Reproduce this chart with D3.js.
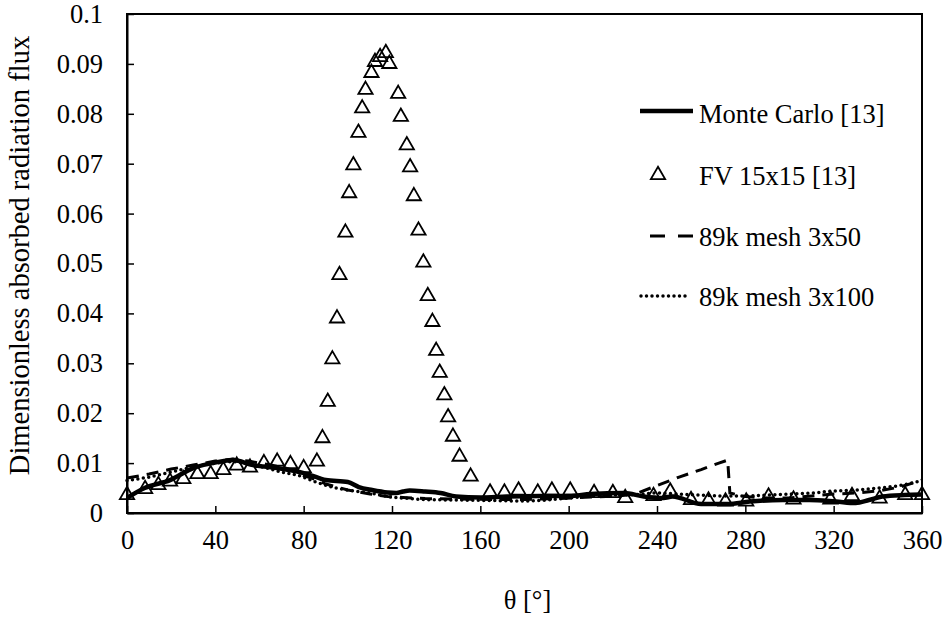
<!DOCTYPE html>
<html>
<head>
<meta charset="utf-8">
<script src="https://cdn.jsdelivr.net/npm/d3@7"></script>
<style>
  html, body { margin: 0; padding: 0; background: #fff; }
  svg { display: block; }
  text { font-family: "Liberation Serif", "Times New Roman", serif; fill: #000; }
</style>
</head>
<body>
<svg id="chart" width="947" height="619"></svg>
<script>
// Angular position along the receiver wall [deg] and dimensionless absorbed flux
const xTicks = [0, 40, 80, 120, 160, 200, 240, 280, 320, 360];
const yTicks = [0, 0.01, 0.02, 0.03, 0.04, 0.05, 0.06, 0.07, 0.08, 0.09, 0.1];
const yTickLabels = ["0", "0.01", "0.02", "0.03", "0.04", "0.05", "0.06", "0.07", "0.08", "0.09", "0.1"];

const seriesNames = ["Monte Carlo [13]", "FV 15x15 [13]", "89k mesh 3x50", "89k mesh 3x100"];

// Monte Carlo [13]
const monteCarlo = [
  [0, 0.0030], [8, 0.0050], [19.5, 0.0066], [30, 0.0090], [41, 0.0102], [48, 0.0106],
  [57, 0.0096], [68, 0.0090], [80, 0.0080], [87, 0.0070], [90, 0.0066], [100, 0.0062],
  [105, 0.0052], [111, 0.0046], [118, 0.0041], [122, 0.0040], [125, 0.0043], [128, 0.0045],
  [135, 0.0043], [142, 0.0040], [149, 0.0033], [160, 0.0031], [172, 0.0033], [187, 0.0034],
  [200, 0.0034], [210, 0.0038], [225, 0.0040], [234, 0.0033], [243, 0.0030], [247, 0.0033],
  [260, 0.0018], [272, 0.0018], [282, 0.0023], [297, 0.0026], [309, 0.0026], [321, 0.0023],
  [330, 0.0020], [336, 0.0026], [342, 0.0033], [352, 0.0036], [360, 0.0037]
];

// FV 15x15 [13]
const fv15 = [
  [0, 0.0036], [8.2, 0.0048], [14.2, 0.0056], [19.5, 0.0063], [25.5, 0.0068], [31.9, 0.0078],
  [37.9, 0.0078], [43.6, 0.0086], [49.7, 0.0095], [55.7, 0.0091], [62, 0.0100], [68, 0.0103],
  [74, 0.0098], [80, 0.0090], [86, 0.0103],
  [88.5, 0.0150], [90.9, 0.0223], [93, 0.0308], [95.1, 0.0390], [96.2, 0.0477], [98.9, 0.0562],
  [100.6, 0.0641], [102.5, 0.0697], [104.8, 0.0762], [106.5, 0.0811], [108, 0.0848],
  [110.7, 0.0882], [112.3, 0.0904], [114.6, 0.0914], [117.2, 0.0922], [118.8, 0.0900],
  [122.8, 0.0840], [124, 0.0794], [126.7, 0.0737], [128.2, 0.0693], [129.9, 0.0635],
  [132, 0.0566], [134.2, 0.0502], [136.2, 0.0435], [138.3, 0.0383], [140, 0.0325],
  [141.6, 0.0281], [143.7, 0.0236], [145.4, 0.0192], [147.6, 0.0153], [150.6, 0.0113],
  [155.6, 0.0073],
  [164.4, 0.0041], [170.9, 0.0041], [177.3, 0.0045], [186, 0.0041], [192.4, 0.0045],
  [200.7, 0.0045], [211.5, 0.0040], [220, 0.0040], [225.6, 0.0030], [238.4, 0.0034],
  [246, 0.0043], [255.4, 0.0026], [263.3, 0.0025], [271, 0.0023], [280.4, 0.0023],
  [290.5, 0.0033], [301.8, 0.0027], [318.5, 0.0027], [328.3, 0.0034], [340.8, 0.0029],
  [352.4, 0.0036], [360, 0.0036]
];

// 89k mesh, 3x50 angular discretisation
const mesh3x50 = [
  [0, 0.0070], [10, 0.0078], [20, 0.0088], [30, 0.0096], [40, 0.0104], [48, 0.0108],
  [55, 0.0104], [65, 0.0096], [72, 0.0090], [80, 0.0075], [86, 0.0066], [90, 0.0058],
  [100, 0.0046], [110, 0.0038], [118, 0.0033], [125, 0.0031], [135, 0.0029], [150, 0.0028],
  [165, 0.0027], [180, 0.0027], [195, 0.0029], [210, 0.0032], [222, 0.0034], [230, 0.0038],
  [240, 0.0055], [250, 0.0072], [260, 0.0087], [268, 0.0100], [272, 0.0106], [273, 0.0040],
  [280, 0.0033], [290, 0.0030], [300, 0.0030], [310, 0.0034], [320, 0.0038], [330, 0.0040],
  [340, 0.0044], [350, 0.0052], [360, 0.0066]
];

// 89k mesh, 3x100 angular discretisation
const mesh3x100 = [
  [0, 0.0065], [10, 0.0072], [20, 0.0082], [30, 0.0092], [40, 0.0100], [48, 0.0103],
  [55, 0.0098], [65, 0.0088], [70, 0.0082], [77, 0.0076], [85, 0.0063], [93, 0.0052],
  [100, 0.0046], [110, 0.0040], [118, 0.0033], [125, 0.0030], [135, 0.0027], [150, 0.0026],
  [165, 0.0025], [180, 0.0024], [190, 0.0026], [200, 0.0030], [210, 0.0034], [220, 0.0036],
  [230, 0.0037], [240, 0.0040], [250, 0.0038], [260, 0.0036], [270, 0.0034], [280, 0.0034],
  [290, 0.0036], [300, 0.0038], [310, 0.0040], [320, 0.0044], [330, 0.0046], [340, 0.0050],
  [350, 0.0055], [360, 0.0065]
];

const svg = d3.select("#chart");
const margin = { left: 127, right: 25, top: 14, bottom: 106 };
const W = 947, H = 619;
const x = d3.scaleLinear().domain([0, 360]).range([margin.left, W - margin.right]);
const y = d3.scaleLinear().domain([0, 0.1]).range([H - margin.bottom, margin.top]);

const FONT = 26.5;

// Frame
svg.append("rect")
  .attr("x", x(0)).attr("y", y(0.1))
  .attr("width", x(360) - x(0)).attr("height", y(0) - y(0.1))
  .attr("fill", "none").attr("stroke", "#000").attr("stroke-width", 2);

// Axes with inward ticks
const xAxis = d3.axisBottom(x).tickValues(xTicks).tickSizeInner(-7).tickSizeOuter(0).tickPadding(17);
const gx = svg.append("g").attr("transform", `translate(0,${y(0)})`).call(xAxis);
gx.attr("font-family", null).attr("font-size", null);
gx.select(".domain").attr("stroke-width", 2);
gx.selectAll(".tick line").attr("stroke-width", 1.5);
gx.selectAll(".tick text").attr("font-size", FONT);

const yAxis = d3.axisLeft(y).tickValues(yTicks).tickFormat((d, i) => yTickLabels[i])
  .tickSizeInner(-7).tickSizeOuter(0).tickPadding(24);
const gy = svg.append("g").attr("transform", `translate(${x(0)},0)`).call(yAxis);
gy.attr("font-family", null).attr("font-size", null);
gy.select(".domain").attr("stroke-width", 2);
gy.selectAll(".tick line").attr("stroke-width", 1.5);
gy.selectAll(".tick text").attr("font-size", FONT);

// Axis titles
svg.append("text")
  .attr("x", (x(0) + x(360)) / 2 + 3).attr("y", 609)
  .attr("text-anchor", "middle").attr("font-size", FONT)
  .text("θ [°]");

svg.append("text")
  .attr("transform", `translate(29,${(y(0) + y(0.1)) / 2 - 8}) rotate(-90)`)
  .attr("text-anchor", "middle").attr("font-size", 28.5)
  .text("Dimensionless absorbed radiation flux");

const line = d3.line().x(d => x(d[0])).y(d => y(d[1]));
const smooth = d3.line().x(d => x(d[0])).y(d => y(d[1])).curve(d3.curveMonotoneX);

const plot = svg.append("g");

plot.append("path").datum(mesh3x50)
  .attr("d", line).attr("fill", "none").attr("stroke", "#000")
  .attr("stroke-width", 3).attr("stroke-dasharray", "12,8");

plot.append("path").datum(mesh3x100)
  .attr("d", smooth).attr("fill", "none").attr("stroke", "#000")
  .attr("stroke-width", 3.5).attr("stroke-linecap", "round").attr("stroke-dasharray", "0,5.5");

plot.append("path").datum(monteCarlo)
  .attr("d", smooth).attr("fill", "none").attr("stroke", "#000")
  .attr("stroke-width", 4.5).attr("stroke-linejoin", "round");

const tri = d3.symbol().type(d3.symbolTriangle).size(88);
plot.selectAll("path.fv").data(fv15).join("path")
  .attr("class", "fv")
  .attr("transform", d => `translate(${x(d[0])},${y(d[1])})`)
  .attr("d", tri)
  .attr("fill", "none").attr("stroke", "#000").attr("stroke-width", 1.8);

// Legend
const legend = svg.append("g");
const legY = [111, 175, 236, 296];
const textX = 699;

legend.append("line").attr("x1", 640).attr("x2", 693).attr("y1", legY[0]).attr("y2", legY[0])
  .attr("stroke", "#000").attr("stroke-width", 4.5);
legend.append("path").attr("transform", `translate(658,${legY[1]})`).attr("d", tri)
  .attr("fill", "none").attr("stroke", "#000").attr("stroke-width", 1.8);
legend.append("line").attr("x1", 650).attr("x2", 693).attr("y1", legY[2]).attr("y2", legY[2])
  .attr("stroke", "#000").attr("stroke-width", 3).attr("stroke-dasharray", "15,13");
legend.append("line").attr("x1", 641).attr("x2", 690).attr("y1", legY[3]).attr("y2", legY[3])
  .attr("stroke", "#000").attr("stroke-width", 3.5).attr("stroke-linecap", "round").attr("stroke-dasharray", "0,5.5");

legend.selectAll("text.lab").data(seriesNames).join("text")
  .attr("class", "lab")
  .attr("x", textX).attr("y", (d, i) => legY[i] + (i === 0 ? 3 : 1))
  .attr("dy", "0.35em").attr("font-size", FONT)
  .text(d => d);
</script>
</body>
</html>
